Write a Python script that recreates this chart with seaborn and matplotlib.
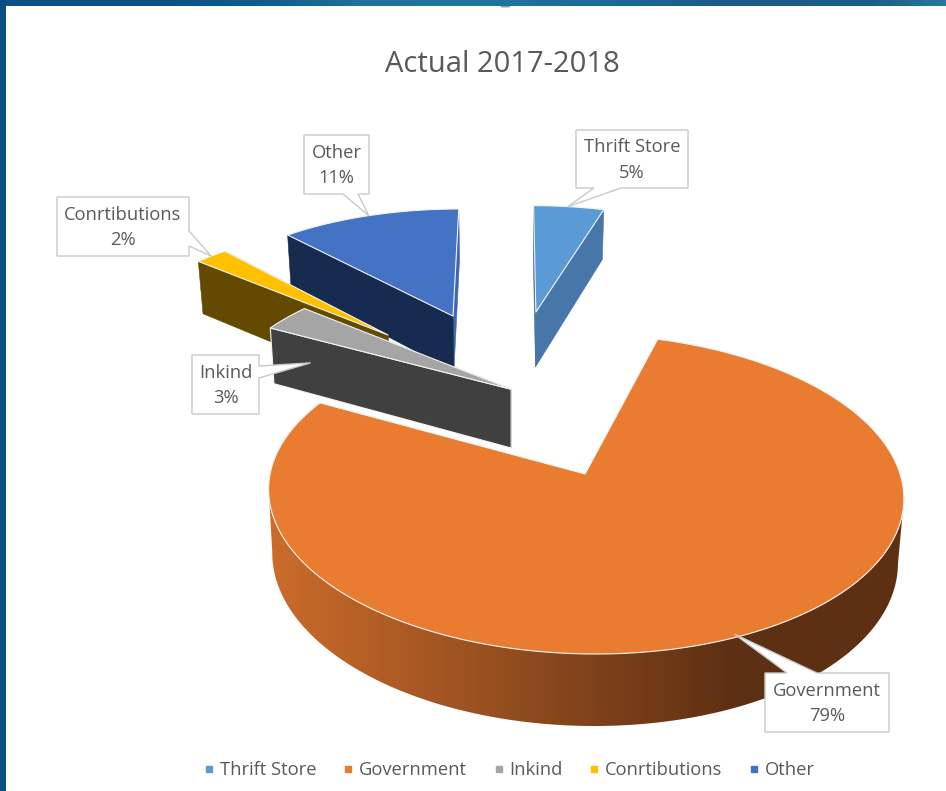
import numpy as np
import matplotlib
matplotlib.use("Agg")
import matplotlib.pyplot as plt
from matplotlib.lines import Line2D
from matplotlib.patches import Polygon
import seaborn as sns

categories = ["Thrift Store", "Government", "Inkind", "Conrtibutions", "Other"]
shares = [5, 79, 3, 2, 11]
chart_title = "Actual 2017-2018"

sns.set_theme(style="white")
plt.rcParams["font.family"] = ["Open Sans", "DejaVu Sans"]

top_colors = sns.color_palette(["#5B9BD5", "#E97C31", "#A5A5A5", "#FFC000", "#4472C4"])
left_wall = ["#3F6F9E", None, "#404040", "#634A00", "#172B50"]
right_wall = ["#4677A8", None, "#404040", "#634A00", "#3F66AF"]
TEXT = "#595959"

# Camera: plane points (u, v) on a unit-radius pie, v growing towards the viewer.
VANISH_X, HORIZON_Y, DEPTH_K, FOCAL, TILT = 512.0, -786.0, 1260.0, 315.0, 0.125
THICKNESS, FLOOR_SHRINK = 63.0, 0.985
CAMERA_TWIST = 4.5

# Tip of each exploded slice on the pie plane, and its radius there.
tip_u = [0.087, 0.232, -0.003, -0.4425, -0.214]
tip_v = [-1.18, 0.0, -0.577, -0.992, -1.146]
radius = [0.985, 1.0, 0.985, 0.985, 0.985]


def project(u, v, floor=False):
    w = 1 - TILT * np.asarray(v, float)
    x = VANISH_X + FOCAL * np.asarray(u, float) / w
    y = HORIZON_Y + DEPTH_K / w
    if floor:
        x = VANISH_X + (x - VANISH_X) * FLOOR_SHRINK
        y = y + THICKNESS / w
    return x, y


def apparent(angle):
    return angle - CAMERA_TWIST * np.abs(np.sin(np.radians(angle)))


def arc(i, a0, a1, n=160):
    angles = np.radians(np.linspace(a0, a1, n))
    return tip_u[i] + radius[i] * np.sin(angles), tip_v[i] - radius[i] * np.cos(angles)


def wall(ax, pts_u, pts_v, color, z, edge=None):
    tx, ty = project(pts_u, pts_v)
    bx, by = project(pts_u, pts_v, floor=True)
    xy = np.r_[np.c_[tx, ty], np.c_[bx, by][::-1]]
    ax.add_patch(Polygon(xy, closed=True, fc=color, ec=edge or color, lw=0.8 if edge else 0.4, zorder=z))


fig = plt.figure(figsize=(9.46, 7.91), dpi=100, facecolor="white")
ax = fig.add_axes([0, 0, 1, 1])

# Window chrome along the top and left edges.
band_x = [0, 150, 270, 360, 480, 600, 720, 870, 946]
band_rgb = np.array([[0x0B, 0x4F, 0x85], [0x0A, 0x4F, 0x85], [0x0E, 0x5E, 0x8E], [0x1F, 0x73, 0x9E],
                     [0x1F, 0x74, 0xA0], [0x1C, 0x6C, 0x98], [0x1A, 0x5A, 0x88], [0x1B, 0x5F, 0x87],
                     [0x26, 0x78, 0x9E]]) / 255
xs = np.arange(946)
band = np.stack([np.interp(xs, band_x, band_rgb[:, c]) for c in range(3)], axis=-1)
ax.imshow(band[None, :, :], extent=(0, 946, 6, 0), aspect="auto", zorder=1)
ax.add_patch(Polygon([(0, 0), (5.5, 0), (5.5, 791), (0, 791)], fc="#0C4E80", ec="none", zorder=1))
ax.add_patch(Polygon([(500, 6), (511, 6), (509, 7.5), (502, 7.5)], fc="#9A9A9A", ec="none", zorder=2))

# Slice angles run clockwise from twelve o'clock.
true_edges = np.r_[0, np.cumsum(shares)] / np.sum(shares) * 360
edges = apparent(true_edges)
paint_order = [4, 0, 3, 1, 2]

for depth, i in enumerate(paint_order):
    z = 10 + depth * 5
    a0, a1 = edges[i], edges[i + 1]
    au, av = arc(i, a0, a1, n=360)
    if categories[i] == "Government":
        # Rim shaded from lit orange at the left to deep brown towards the right,
        # bounded by the silhouette lines joining the widest points of both rims.
        tx, ty = project(au, av)
        bx, by = project(au, av, floor=True)
        right_end, left_end = int(np.argmax(tx)), int(np.argmin(tx))
        span = slice(right_end, left_end + 1)
        rim = Polygon(np.r_[np.c_[tx[span], ty[span]], np.c_[bx[span], by[span]][::-1]],
                      closed=True, fc="none", ec="none", transform=ax.transData)
        ax.add_patch(rim)
        light, dark = np.array([0xCC, 0x6C, 0x2B]) / 255, np.array([0x5E, 0x30, 0x13]) / 255
        t = np.clip((xs - 268) / (730 - 268), 0, 1)[None, :, None]
        img = ax.imshow(light + (dark - light) * t, extent=(0, 946, 791, 0), aspect="auto", zorder=z)
        img.set_clip_path(rim)
    else:
        start_u, start_v = np.array([tip_u[i], au[0]]), np.array([tip_v[i], av[0]])
        end_u, end_v = np.array([tip_u[i], au[-1]]), np.array([tip_v[i], av[-1]])
        if a0 < 180:
            wall(ax, start_u, start_v, left_wall[i], z)
            wall(ax, end_u, end_v, right_wall[i], z + 1)
        else:
            outline = "#F4F4F4" if categories[i] == "Inkind" else None
            wall(ax, end_u, end_v, right_wall[i], z)
            wall(ax, start_u, start_v, left_wall[i], z + 1, edge=outline)
    top_x, top_y = project(np.r_[tip_u[i], au], np.r_[tip_v[i], av])
    ax.add_patch(Polygon(np.c_[top_x, top_y], closed=True, fc=top_colors[i], ec="#F4F4F4",
                         lw=0.8, joinstyle="round", zorder=z + 2))

ax.set_xlim(0, 946)
ax.set_ylim(791, 0)
ax.axis("off")

# Callout boxes: left, right, top, bottom, pointer root, pointer tip shift.
boxes = [(576, 688, 130, 188), (765, 889, 673, 732), (192, 259, 355, 414),
         (57, 189, 197, 256), (304, 369, 135, 194)]
roots = [((621, 188), (594, 188)), ((787, 673), (817, 673)), ((259, 378), (259, 366)),
         ((189, 246), (189, 231)), ((358, 194), (343, 194))]
tip_shift = [(-1, 0), (10, -6), (24, 45), (0, 0), (0, 0)]

for i, name in enumerate(categories):
    mid = apparent((true_edges[i] + true_edges[i + 1]) / 2)
    mu, mv = arc(i, mid, mid, n=1)
    px, py = project(mu, mv)
    tip = (px[0] + tip_shift[i][0], py[0] + tip_shift[i][1])
    l, r, t, b = boxes[i]
    (x0, y0), (x1, y1) = roots[i]
    if y0 == y1 and y0 == b:
        outline = [(l, t), (r, t), (r, b), (x0, y0), tip, (x1, y1), (l, b)]
    elif y0 == y1:
        outline = [(l, t), (x0, y0), tip, (x1, y1), (r, t), (r, b), (l, b)]
    else:
        outline = [(l, t), (r, t), (x1, y1), tip, (x0, y0), (r, b), (l, b)]
    ax.add_patch(Polygon(outline, closed=True, fc="white", ec="#C9C9C9", lw=1.0,
                         joinstyle="miter", zorder=50))
    ax.text((l + r) / 2, (t + b) / 2 + 1, f"{name}\n{shares[i]}%", ha="center", va="center",
            fontsize=13.2, color=TEXT, linespacing=1.5, zorder=51)

ax.text(502, 64, chart_title, ha="center", va="center", fontsize=21, color=TEXT, zorder=51)

handles = [Line2D([], [], ls="none", marker="s", ms=5, mfc=c, mec=c) for c in top_colors]
fig.legend(handles, categories, loc="center", bbox_to_anchor=(509 / 946, 1 - 770 / 791), ncol=5,
           frameon=False, fontsize=13.2, labelcolor=TEXT, handlelength=0.7, handletextpad=0.25,
           columnspacing=1.36)

fig.savefig("out.png", dpi=100, facecolor="white")
